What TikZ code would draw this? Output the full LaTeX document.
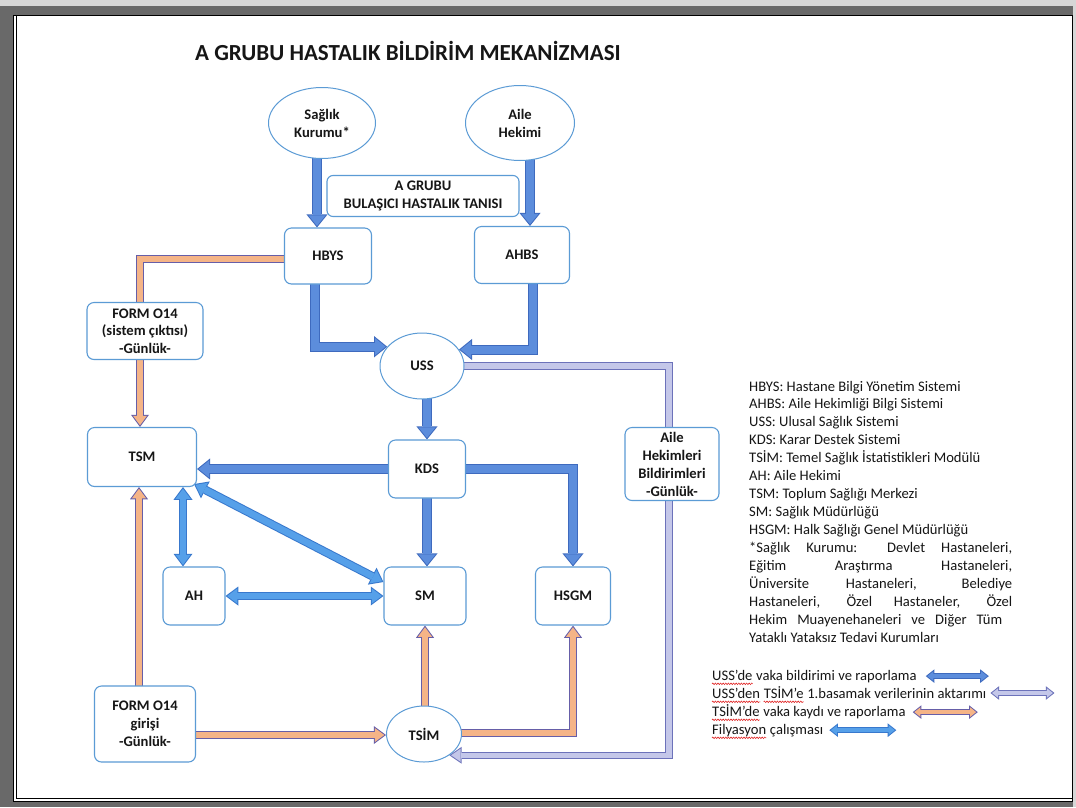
\documentclass[tikz,border=0pt]{standalone}
\usepackage{fontspec}
\setmainfont{Carlito}
\usetikzlibrary{arrows.meta,shapes.geometric,decorations.pathmorphing}
\pgfdeclarelayer{framel}
\pgfdeclarelayer{bgl}
\pgfsetlayers{framel,bgl,main}
\definecolor{bfill}{RGB}{92,141,220}
\definecolor{bline}{RGB}{62,106,190}
\definecolor{ffill}{RGB}{86,160,233}
\definecolor{fline}{RGB}{56,120,205}
\definecolor{ofill}{RGB}{245,180,135}
\definecolor{oline}{RGB}{102,94,168}
\definecolor{lfill}{RGB}{196,199,233}
\definecolor{lline}{RGB}{108,114,186}
\definecolor{nodeb}{RGB}{91,155,213}
\definecolor{txt}{RGB}{22,22,22}
\definecolor{framegray}{RGB}{105,105,105}
\definecolor{framelight}{RGB}{215,215,215}
\definecolor{spellred}{RGB}{225,40,40}
\tikzset{
  one/.style n args={9}{draw=#1, line width=#3, shorten >=#9,
    -{Triangle[width=#5,length=#6,line width=0pt]},
    preaction={draw=#2, line width=#4, shorten >=0pt,
      -{Triangle[width=#7,length=#8,line width=0pt]}}},
  two/.style n args={9}{draw=#1, line width=#3, shorten >=#9, shorten <=#9,
    {Triangle[width=#5,length=#6,line width=0pt]}-{Triangle[width=#5,length=#6,line width=0pt]},
    preaction={draw=#2, line width=#4, shorten >=0pt, shorten <=0pt,
      {Triangle[width=#7,length=#8,line width=0pt]}-{Triangle[width=#7,length=#8,line width=0pt]}}},
  barr/.style={one={bfill}{bline}{8pt}{10pt}{17pt}{10.5pt}{21.2pt}{13.1pt}{1.6pt}},
  oarr/.style={one={ofill}{oline}{6.5pt}{8.5pt}{14pt}{9.5pt}{18pt}{12.2pt}{1.7pt}},
  larr/.style={one={lfill}{lline}{5.5pt}{7.5pt}{13pt}{9.5pt}{16.8pt}{12.3pt}{1.8pt}},
  farr/.style={two={ffill}{fline}{6.5pt}{8.5pt}{15pt}{10pt}{19pt}{12.7pt}{1.7pt}},
  legb/.style={two={bfill}{bline}{4.5pt}{6.5pt}{9.5pt}{6pt}{13.6pt}{8.6pt}{1.6pt}},
  legl/.style={two={lfill}{lline}{4.5pt}{6.5pt}{9.5pt}{6pt}{13.6pt}{8.6pt}{1.6pt}},
  lego/.style={two={ofill}{oline}{4.5pt}{6.5pt}{9.5pt}{6pt}{13.6pt}{8.6pt}{1.6pt}},
  legf/.style={two={ffill}{fline}{4.5pt}{6.5pt}{9.5pt}{6pt}{13.6pt}{8.6pt}{1.6pt}},
  nodefont/.style={font=\bfseries\fontsize{14.6}{18}\selectfont, text=txt},
  ell/.style={ellipse, draw=nodeb, line width=1pt, fill=white, inner sep=0pt, align=center, nodefont},
  rbox/.style={rectangle, rounded corners=7pt, draw=nodeb, line width=1.1pt, fill=white, inner sep=0pt, align=center, nodefont},
  legtext/.style={anchor=base west, inner sep=0pt, font=\fontsize{14.6}{17}\selectfont, text=txt},
  spell/.style={draw=spellred, line width=0.6pt, decorate, decoration={snake, amplitude=0.75pt, segment length=2.6pt}},
}
\begin{document}
\begin{tikzpicture}[x=1pt,y=-1pt]
\useasboundingbox (0,0) rectangle (1076,807);
\begin{pgfonlayer}{framel}
\fill[framegray] (0,0) rectangle (1076,807);
\fill[framelight] (0,0) rectangle (1076,6);
\fill[framelight] (1073,6) rectangle (1076,807);
\fill[white] (13,15) rectangle (1073,802);
\draw[black, line width=1.3pt] (13.6,15.6) rectangle (1072.4,801.4);
\draw[black, line width=1pt] (16.8,15.6) -- (16.8,798.2) -- (1072.4,798.2);
\end{pgfonlayer}

% title
\node[anchor=base west, inner sep=0pt, font=\bfseries\fontsize{23}{27}\selectfont, text=txt] (title) at (195,60) {A GRUBU HASTALIK BİLDİRİM MEKANİZMASI};

% nodes
\node[ell, minimum width=107pt, minimum height=71pt] (sk) at (322,123) {Sağlık\\Kurumu*};
\node[ell, minimum width=109pt, minimum height=75pt] (aile) at (520,123) {Aile\\Hekimi};
\node[rbox, rounded corners=6pt, minimum width=192pt, minimum height=41pt] (agr) at (423,196) {A GRUBU\\BULAŞICI HASTALIK TANISI};
\node[rbox, minimum width=87pt, minimum height=56pt] (hbys) at (328,256) {HBYS};
\node[rbox, minimum width=95pt, minimum height=57pt] (ahbs) at (522,255) {AHBS};
\node[rbox, minimum width=116pt, minimum height=57pt, font=\bfseries\fontsize{14.6}{17.5}\selectfont] (form1) at (145,331) {FORM O14\\(sistem çıktısı)\\-Günlük-};
\node[ell, minimum width=84pt, minimum height=66pt] (uss) at (422,366) {USS};
\node[rbox, minimum width=109pt, minimum height=59pt] (tsm) at (142,457) {TSM};
\node[rbox, minimum width=77pt, minimum height=58pt] (kds) at (427,469) {KDS};
\node[rbox, minimum width=62pt, minimum height=58pt] (ahbox) at (194,596) {AH};
\node[rbox, minimum width=82pt, minimum height=58pt] (sm) at (425,596) {SM};
\node[rbox, minimum width=75pt, minimum height=58pt] (hsgm) at (573,596) {HSGM};
\node[rbox, minimum width=94pt, minimum height=73pt] (ahb) at (672,464) {Aile\\Hekimleri\\Bildirimleri\\-Günlük-};
\node[rbox, minimum width=101pt, minimum height=76pt] (form2) at (145,724) {FORM O14\\girişi\\-Günlük-};
\node[ell, minimum width=75pt, minimum height=56pt] (tsim) at (424,734) {TSİM};

% connectors
\begin{pgfonlayer}{bgl}
\draw[barr] ([xshift=-5pt]sk.center) -- ([xshift=-11pt]hbys.north);
\draw[barr] ([xshift=10pt]aile.center) -- ([xshift=8pt]ahbs.north);
\draw[barr] ([xshift=-13pt]hbys.center) |- (uss.151);
\draw[barr] ([xshift=11pt]ahbs.center) |- (uss.24);
\draw[barr] (uss.center -| kds.north) -- (kds.north);
\draw[barr] (kds.center) -- (tsm.east |- kds.center);
\draw[barr] (kds.center) -- (sm.north -| kds.center);
\draw[barr] (kds.center) -| (hsgm.north);
\draw[farr] ([xshift=41pt]tsm.south) -- ([xshift=-11pt]ahbox.north);
\draw[farr] ([xshift=-3pt,yshift=3pt]tsm.south east) -- ([yshift=14pt]sm.west);
\draw[farr] (ahbox.east) -- (sm.west);
\draw[oarr] ([yshift=-3pt]hbys.center) -| ([xshift=-2pt]tsm.north);
\draw[oarr] ([xshift=-6pt]form2.center) -- ([xshift=-3pt]tsm.south);
\draw[oarr] ([yshift=-11pt]form2.center) -- ([yshift=-1pt]tsim.west);
\draw[oarr] (tsim.center -| sm.south) -- (sm.south);
\draw[oarr] ([yshift=1pt]tsim.center) -| (hsgm.south);
\draw[larr] (uss.center) -| ([xshift=-3pt]ahb.center) |- (tsim.-40);
\end{pgfonlayer}

% legend (abbreviations)
\foreach \t [count=\i from 0] in {%
  {HBYS: Hastane Bilgi Yönetim Sistemi},
  {AHBS: Aile Hekimliği Bilgi Sistemi},
  {USS: Ulusal Sağlık Sistemi},
  {KDS: Karar Destek Sistemi},
  {TSİM: Temel Sağlık İstatistikleri Modülü},
  {AH: Aile Hekimi},
  {TSM: Toplum Sağlığı Merkezi},
  {SM: Sağlık Müdürlüğü},
  {HSGM: Halk Sağlığı Genel Müdürlüğü},
  {\makebox[263pt][s]{*Sağlık Kurumu: Devlet Hastaneleri,}},
  {\makebox[263pt][s]{Eğitim Araştırma Hastaneleri,}},
  {\makebox[263pt][s]{Üniversite Hastaneleri, Belediye}},
  {\makebox[263pt][s]{Hastaneleri, Özel Hastaneler, Özel}},
  {\makebox[253pt][s]{Hekim Muayenehaneleri ve Diğer Tüm}},
  {Yataklı Yataksız Tedavi Kurumları}}
  \node[legtext] (leg\i) at (749, 391+17.93*\i) {\t};

% legend (arrows)
\node[legtext] (w1) at (712,680) {USS’de};
\node[legtext] (r1) at (w1.base east) {\ vaka bildirimi ve raporlama};
\node[legtext] (w2a) at (712,698) {USS’den};
\node[legtext] (w2b) at ([xshift=3.3pt]w2a.base east) {TSİM’e};
\node[legtext] (r2) at (w2b.base east) {\ 1.basamak verilerinin aktarımı};
\node[legtext] (w3) at (712,716) {TSİM’de};
\node[legtext] (r3) at (w3.base east) {\ vaka kaydı ve raporlama};
\node[legtext] (w4) at (712,734) {Filyasyon};
\node[legtext] (r4) at (w4.base east) {\ çalışması};

\draw[spell] ([yshift=-3.8pt]w1.base west) -- ([yshift=-3.8pt]w1.base east);
\draw[spell] ([yshift=-3.8pt]w2a.base west) -- ([yshift=-3.8pt]w2a.base east);
\draw[spell] ([yshift=-3.8pt]w2b.base west) -- ([yshift=-3.8pt]w2b.base east);
\draw[spell] ([yshift=-3.8pt]w3.base west) -- ([yshift=-3.8pt]w3.base east);
\draw[spell] ([yshift=-3.8pt]w4.base west) -- ([yshift=-3.8pt]w4.base east);

\draw[legb] ([xshift=9pt]r1.east) -- ([xshift=72pt]r1.east);
\draw[legl] ([xshift=4pt]r2.east) -- ([xshift=68pt]r2.east);
\draw[lego] ([xshift=7pt]r3.east) -- ([xshift=72pt]r3.east);
\draw[legf] ([xshift=6pt]r4.east) -- ([xshift=73pt]r4.east);
\end{tikzpicture}
\end{document}
